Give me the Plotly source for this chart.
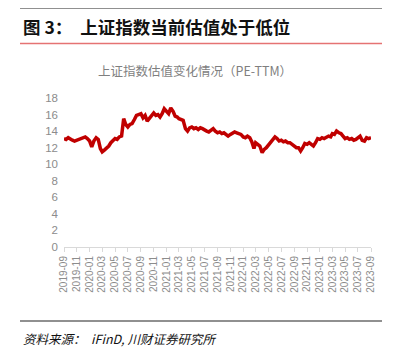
import plotly.graph_objects as go

# ---- data ----
months = []
for y in range(2019, 2024):
    for m in range(1, 13):
        if (y == 2019 and m < 9) or (y == 2023 and m > 8):
            continue
        months.append(f"{y}-{m:02d}")
dates = [f"{ym}-{d:02d}" for ym in months for d in (1, 11, 21)] + ["2023-09-01"]

pe_ttm = [
    13.1, 13.0, 13.2, 13.0, 12.9, 12.8, 12.9, 13.0, 13.1, 13.2,
    13.3, 13.1, 12.8, 12.1, 12.8, 13.2, 13.0, 11.9, 11.5, 11.7,
    11.9, 12.2, 12.6, 12.8, 13.1, 13.0, 13.3, 13.4, 15.5, 14.8,
    14.5, 14.8, 14.9, 15.4, 15.9, 16.0, 16.1, 15.6, 15.9, 15.2,
    15.5, 15.8, 16.2, 15.9, 16.0, 15.7, 16.1, 16.7, 16.3, 16.1,
    16.8, 16.4, 15.8, 15.7, 15.5, 15.4, 15.3, 14.3, 14.0, 14.4,
    14.5, 14.3, 14.4, 14.2, 14.4, 14.3, 14.1, 14.0, 13.9, 14.1,
    14.3, 14.0, 13.8, 13.9, 13.7, 13.8, 13.6, 13.4, 13.6, 13.8,
    13.9, 13.8, 13.7, 13.6, 13.3, 13.2, 13.4, 13.2, 12.7, 11.9,
    12.6, 12.4, 12.2, 11.4, 11.8, 12.0, 12.3, 12.6, 12.9, 13.3,
    13.1, 12.8, 12.9, 12.7, 12.8, 12.6, 12.6, 12.4, 12.2, 12.0,
    12.0, 11.6, 12.0, 12.5, 12.4, 12.6, 12.4, 12.2, 12.6, 13.1,
    13.0, 13.2, 13.1, 13.3, 13.4, 13.3, 13.7, 13.6, 14.0, 13.8,
    13.7, 13.4, 13.1, 13.2, 13.0, 13.1, 12.9, 13.0, 13.2, 13.4,
    12.9, 12.8, 13.2, 13.1, 13.2,
]

tick_labels = [
    "2019-09", "2019-11", "2020-01", "2020-03", "2020-05", "2020-07", "2020-09",
    "2020-11", "2021-01", "2021-03", "2021-05", "2021-07", "2021-09", "2021-11",
    "2022-01", "2022-03", "2022-05", "2022-07", "2022-09", "2022-11", "2023-01",
    "2023-03", "2023-05", "2023-07", "2023-09",
]
y_ticks = [0, 2, 4, 6, 8, 10, 12, 14, 16, 18]

fig_title = "图 3：  上证指数当前估值处于低位"
chart_title = "上证指数估值变化情况（PE-TTM）"
source_text = "资料来源：  iFinD, 川财证券研究所"

# ---- layout geometry (screen pixels; page body has an 8px margin) ----
OFF = 8
W, H = 405 - OFF, 355 - OFF
L, R, T, B = 64, 371, 98, 247  # plot area in screen pixels


def px(x):
    return (x - L) / (R - L)


def py(y):
    return (B - y) / (B - T)


fig = go.Figure()
fig.add_trace(go.Scatter(
    x=dates, y=pe_ttm, mode="lines",
    line=dict(color="#C00000", width=3.5),
    hoverinfo="skip", showlegend=False,
))

fig.update_layout(
    width=W, height=H,
    margin=dict(l=L - OFF, r=W - (R - OFF), t=T - OFF, b=H - (B - OFF)),
    paper_bgcolor="white", plot_bgcolor="white",
    font=dict(family="Liberation Sans Narrow, Liberation Sans, Arial, sans-serif"),
    xaxis=dict(
        type="date",
        range=["2019-09-01", "2023-09-01"],
        tickvals=[t + "-01" for t in tick_labels],
        ticktext=tick_labels,
        tickangle=-90,
        ticks="outside", ticklen=4, tickcolor="#d9d9d9", tickwidth=1,
        showline=True, linecolor="#d9d9d9", linewidth=1,
        showgrid=False, zeroline=False,
        tickfont=dict(size=10, color="#8c8c8c"),
    ),
    yaxis=dict(
        range=[0, 18],
        tickvals=y_ticks,
        showgrid=False, zeroline=False, showline=False,
        ticks="",
        ticklabelstandoff=5,
        tickfont=dict(size=11.5, color="#8c8c8c"),
    ),
    shapes=[
        dict(type="line", xref="paper", yref="paper",
             x0=px(20), x1=px(382), y0=py(8), y1=py(8),
             line=dict(color="#222222", width=1.2)),
        dict(type="line", xref="paper", yref="paper",
             x0=px(20), x1=px(382), y0=py(43.5), y1=py(43.5),
             line=dict(color="#E57373", width=1.5)),
        dict(type="line", xref="paper", yref="paper",
             x0=px(20), x1=px(382), y0=py(321), y1=py(321),
             line=dict(color="#222222", width=1.2)),
    ],
    annotations=[
        dict(text=f"<b>{fig_title}</b>", xref="paper", yref="paper",
             x=px(21), y=py(26), xanchor="left", yanchor="middle",
             showarrow=False,
             font=dict(family="Noto Sans CJK SC", size=17.5, color="#111111")),
        dict(text=chart_title, xref="paper", yref="paper",
             x=px(195), y=py(71), xanchor="center", yanchor="middle",
             showarrow=False,
             font=dict(family="Noto Sans CJK SC", size=12.5, color="#7f7f7f")),
        dict(text=f"<i>{source_text}</i>", xref="paper", yref="paper",
             x=px(21), y=py(338), xanchor="left", yanchor="middle",
             showarrow=False,
             font=dict(family="Noto Sans CJK SC", size=12.5, color="#111111")),
    ],
)

fig.write_html("out.html")
